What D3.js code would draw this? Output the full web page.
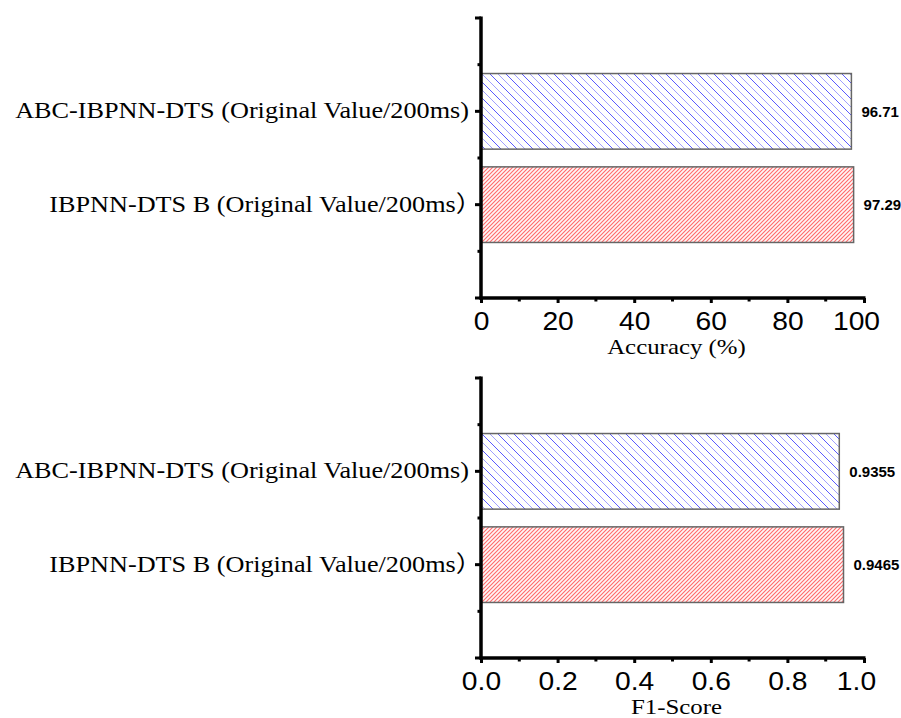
<!DOCTYPE html>
<html>
<head>
<meta charset="utf-8">
<script src="https://cdn.jsdelivr.net/npm/d3@7"></script>
<style>
  body { margin: 0; background: #fff; }
  svg { display: block; }
</style>
</head>
<body>
<svg id="chart" width="901" height="718"></svg>
<script>
// Category names, top to bottom
var methods = [
    "ABC-IBPNN-DTS (Original Value/200ms)",
    "IBPNN-DTS B (Original Value/200ms\uFF09"
];

// Values for each panel
var accuracy = [96.71, 97.29];
var f1Score = [0.9355, 0.9465];

// Axis titles
var accuracyTitle = "Accuracy (%)";
var f1Title = "F1-Score";

// The reference text looks a bit wider than the fonts we have
var stretch = 1.13;

var svg = d3.select("#chart");

// Hatch patterns for the two bars (drawn in the tile, no rotation, to avoid moire)
var defs = svg.append("defs");

var blue = defs.append("pattern")
    .attr("id", "hatchBlue")
    .attr("patternUnits", "userSpaceOnUse")
    .attr("width", 16)
    .attr("height", 16);
blue.append("rect").attr("width", 16).attr("height", 16).attr("fill", "#fff");
blue.append("path")
    .attr("d", "M-1,-1L17,17M-1,15L1,17M15,-1L17,1")
    .attr("stroke", "#5a5aff").attr("stroke-width", 1).attr("fill", "none");
blue.append("path")
    .attr("d", "M7,-1L17,9M-1,7L9,17")
    .attr("stroke", "#a0a0ff").attr("stroke-width", 1).attr("fill", "none");

var red = defs.append("pattern")
    .attr("id", "hatchRed")
    .attr("patternUnits", "userSpaceOnUse")
    .attr("width", 4)
    .attr("height", 4);
red.append("rect").attr("width", 4).attr("height", 4).attr("fill", "#fff7f7");
red.append("path")
    .attr("d", "M-1,5L5,-1M-1,1L1,-1M3,5L5,3")
    .attr("stroke", "#ff6b6b").attr("stroke-width", 1.1).attr("fill", "none");

var fills = ["url(#hatchBlue)", "url(#hatchRed)"];

/**
 * Draw one horizontal bar panel
 */
function drawPanel(opts) {
    var g = svg.append("g");

    var x = d3.scaleLinear().domain(opts.domain).range([481, 864]);
    // slots: 0 = top end, 1 and 2 = categories, 3 = bottom end
    var y = d3.scaleLinear().domain([0, 3]).range([opts.top, opts.top + 280]);
    var barH = 0.81 * (y(1) - y(0));

    // Bars
    g.selectAll(".bar")
        .data(opts.values)
        .enter()
        .append("rect")
        .attr("class", "bar")
        .attr("x", x(0))
        .attr("y", function (d, i) { return y(i + 1) - barH / 2; })
        .attr("width", function (d) { return x(d) - x(0); })
        .attr("height", barH)
        .attr("fill", function (d, i) { return fills[i]; })
        .attr("stroke", "#666")
        .attr("stroke-width", 1.5);

    // Value labels
    g.selectAll(".val")
        .data(opts.values)
        .enter()
        .append("text")
        .attr("transform", function (d, i) {
            return "translate(" + (x(d) + 10) + "," + (y(i + 1) + 5.5) + ")";
        })
        .style("font-family", "'Liberation Sans', Arial, sans-serif")
        .style("font-weight", "bold")
        .style("font-size", "15px")
        .text(function (d) { return opts.valueFormat(d); });

    // X axis
    var xAxis = d3.axisBottom(x)
        .tickValues(opts.majorTicks)
        .tickFormat(opts.tickFormat)
        .tickSize(5)
        .tickPadding(6);
    var xg = g.append("g")
        .attr("transform", "translate(0," + y(3) + ")")
        .call(xAxis);
    xg.select(".domain")
        .attr("stroke-width", 3.5)
        .attr("d", "M" + (x.range()[0] - 1.5) + ",0H" + (x.range()[1] + 1.5));
    xg.selectAll(".tick line").attr("stroke-width", 3);
    var last = opts.majorTicks.length - 1;
    xg.selectAll(".tick text")
        .attr("y", 0).attr("dy", 0)
        .attr("transform", function (d, i) {
            // the last label sits a little left of its tick in the reference
            return "translate(" + (i === last ? -8 : 0) + ",32) scale(" + stretch + ",1)";
        })
        .style("font-family", "'Liberation Sans', Arial, sans-serif")
        .style("font-size", "25px");

    // X minor ticks
    g.selectAll(".xminor")
        .data(opts.minorTicks)
        .enter()
        .append("line")
        .attr("x1", function (d) { return x(d); })
        .attr("x2", function (d) { return x(d); })
        .attr("y1", y(3))
        .attr("y2", y(3) + 3.5)
        .attr("stroke", "#000")
        .attr("stroke-width", 3);

    // Y axis
    var yg = g.append("g").attr("transform", "translate(" + x(0) + ",0)");
    yg.append("line")
        .attr("x1", 0).attr("x2", 0)
        .attr("y1", y(0) - 1.5).attr("y2", y(3) + 1.5)
        .attr("stroke", "#000").attr("stroke-width", 3.5);
    yg.selectAll(".ymajor")
        .data([0, 1, 2, 3])
        .enter()
        .append("line")
        .attr("x1", -6).attr("x2", 0)
        .attr("y1", function (d) { return y(d); })
        .attr("y2", function (d) { return y(d); })
        .attr("stroke", "#000").attr("stroke-width", 3);
    yg.selectAll(".yminor")
        .data([0.5, 1.5, 2.5])
        .enter()
        .append("line")
        .attr("x1", -3.5).attr("x2", 0)
        .attr("y1", function (d) { return y(d); })
        .attr("y2", function (d) { return y(d); })
        .attr("stroke", "#000").attr("stroke-width", 3);

    // Category labels; a full-width closing paren carries blank space after its glyph
    yg.selectAll(".cat")
        .data(methods)
        .enter()
        .append("text")
        .attr("transform", function (d, i) {
            var shift = /\uFF09$/.test(d) ? 13 : 0;
            return "translate(" + (-12 + shift) + "," + (y(i + 1) + 7) + ") scale(" + (stretch + 0.01) + ",1)";
        })
        .attr("text-anchor", "end")
        .style("font-family", "'Liberation Serif', 'Times New Roman', 'Noto Sans CJK SC', serif")
        .style("font-size", "23px")
        .text(function (d) { return d; });

    // X title
    g.append("text")
        .attr("transform", "translate(" + ((x.range()[0] + x.range()[1]) / 2 + 4) + "," + (y(3) + 56) + ") scale(" + stretch + ",1)")
        .attr("text-anchor", "middle")
        .style("font-family", "'Liberation Serif', 'Times New Roman', serif")
        .style("font-size", "22px")
        .text(opts.title);
}

drawPanel({
    top: 18,
    domain: [0, 100],
    values: accuracy,
    majorTicks: [0, 20, 40, 60, 80, 100],
    minorTicks: [10, 30, 50, 70, 90],
    tickFormat: d3.format("d"),
    valueFormat: d3.format(".2f"),
    title: accuracyTitle
});

drawPanel({
    top: 378,
    domain: [0, 1],
    values: f1Score,
    majorTicks: [0, 0.2, 0.4, 0.6, 0.8, 1.0],
    minorTicks: [0.1, 0.3, 0.5, 0.7, 0.9],
    tickFormat: d3.format(".1f"),
    valueFormat: d3.format(".4f"),
    title: f1Title
});
</script>
</body>
</html>
